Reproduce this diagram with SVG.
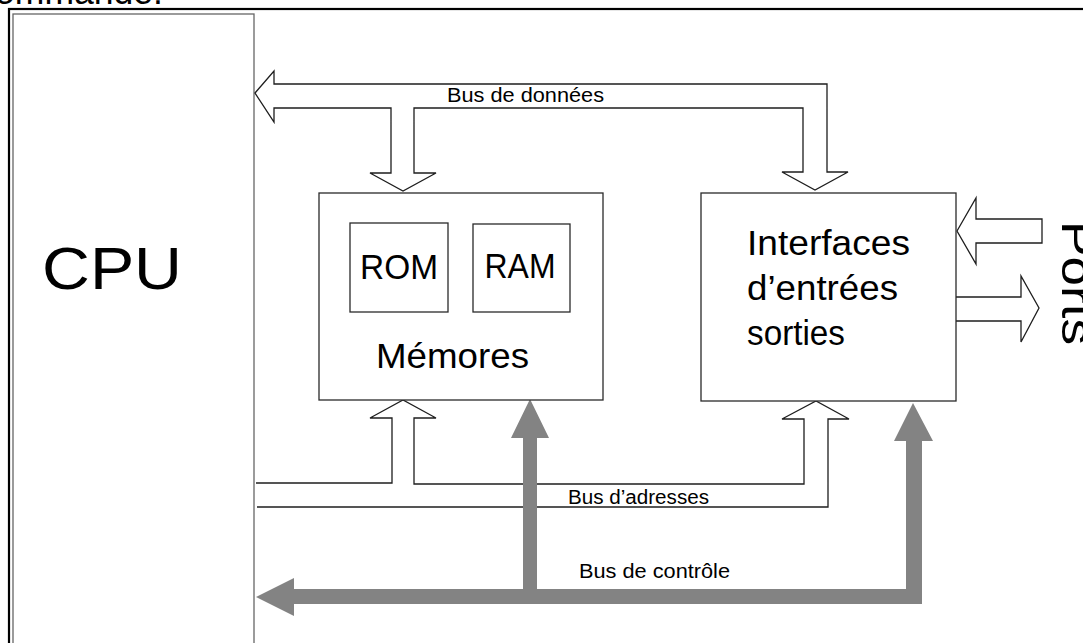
<svg xmlns="http://www.w3.org/2000/svg" width="1083" height="643" viewBox="0 0 1083 643">
  <style>
    .frame { fill: none; stroke: #000; stroke-width: 2.2; }
    .box { fill: #fff; stroke: #2a2a2a; stroke-width: 1.3; }
    .cpu { fill: #fff; stroke: #666; stroke-width: 1.3; }
    .bus { fill: #fff; stroke: #1e1e1e; stroke-width: 1.3; stroke-linejoin: miter; }
    .open { fill: none; stroke: #1e1e1e; stroke-width: 1.3; }
    .ctrl { fill: #838383; stroke: none; }
    .big { font-family: "Liberation Sans", Arial, sans-serif; fill: #000; }
    .lbl { font-family: "Liberation Sans", Arial, sans-serif; font-size: 20px; fill: #000; }
  </style>

  <rect width="1083" height="643" fill="#fff"/>

  <!-- heading line cut by the page edge -->
  <text class="big" x="-5" y="4" font-size="36" textLength="168" lengthAdjust="spacingAndGlyphs">ommande:</text>

  <!-- outer frame -->
  <rect class="frame" x="9" y="9" width="1100" height="700"/>

  <!-- processor -->
  <g id="cpu">
    <rect class="cpu" x="13" y="14" width="241" height="700"/>
    <text class="big" x="42" y="289" font-size="60" textLength="140" lengthAdjust="spacingAndGlyphs">CPU</text>
  </g>

  <!-- buses -->
  <g id="connectors">
    <!-- data bus: bidirectional to CPU, down into memory and I/O -->
    <polygon id="bus-donnees" class="bus" points="255,93 274,71 274,84 827,84 827,172 848,172 815,190 782,172 803,172 803,108 414,108 414,173 436,173 403,191 370,173 391,173 391,108 274,108 274,122"/>

    <!-- address bus -->
    <polyline id="bus-adresses" class="open" points="256,483 392,483 392,418 370,418 403,400 436,418 414,418 414,484 804,484 804,419 782,419 816,401 849,419 828,419 828,507 257,507"/>

    <!-- control bus -->
    <polygon id="bus-controle" class="ctrl" points="256,597 294,578 294,589 523,589 523,438 511,438 530,399 549,438 537,438 537,589 906,589 906,441 894,441 913,403 933,441 922,441 922,604 294,604 294,616"/>

    <!-- port arrows -->
    <polygon id="port-in" class="bus" points="957,231 976,198 976,219 1042,219 1042,243 976,243 976,264"/>
    <polyline id="port-out" class="open" points="956,297 1021,297 1021,276 1039,308 1021,342 1021,321 956,321"/>
  </g>

  <!-- bus labels -->
  <g id="bus-labels">
    <text class="lbl" x="447" y="101.5" textLength="157" lengthAdjust="spacingAndGlyphs">Bus de données</text>
    <text class="lbl" x="568" y="503.5" textLength="141" lengthAdjust="spacingAndGlyphs">Bus d’adresses</text>
    <text class="lbl" x="579" y="577.5" textLength="151" lengthAdjust="spacingAndGlyphs">Bus de contrôle</text>
  </g>

  <!-- memory block -->
  <g id="memoires">
    <rect class="box" x="319" y="193" width="284" height="207"/>
    <g id="rom">
      <rect class="box" x="350" y="223" width="98" height="89"/>
      <text class="big" x="399" y="279" font-size="35" text-anchor="middle" textLength="78" lengthAdjust="spacingAndGlyphs">ROM</text>
    </g>
    <g id="ram">
      <rect class="box" x="473" y="224" width="97" height="88"/>
      <text class="big" x="520" y="277.5" font-size="35" text-anchor="middle" textLength="71" lengthAdjust="spacingAndGlyphs">RAM</text>
    </g>
    <text class="big" x="376" y="368" font-size="35" textLength="153" lengthAdjust="spacingAndGlyphs">Mémores</text>
  </g>

  <!-- input / output interfaces -->
  <g id="interfaces">
    <rect class="box" x="701" y="193" width="255" height="208"/>
    <text class="big" font-size="35">
      <tspan x="747" y="255" textLength="163" lengthAdjust="spacingAndGlyphs">Interfaces</tspan>
      <tspan x="747" y="300" textLength="151" lengthAdjust="spacingAndGlyphs">d’entrées</tspan>
      <tspan x="747" y="345" textLength="98" lengthAdjust="spacingAndGlyphs">sorties</tspan>
    </text>
  </g>

  <!-- ports label, running down the right edge -->
  <g id="ports">
    <text class="big" x="1062" y="221" font-size="44" transform="rotate(90 1062 221)" textLength="124" lengthAdjust="spacingAndGlyphs">Ports</text>
  </g>
</svg>
